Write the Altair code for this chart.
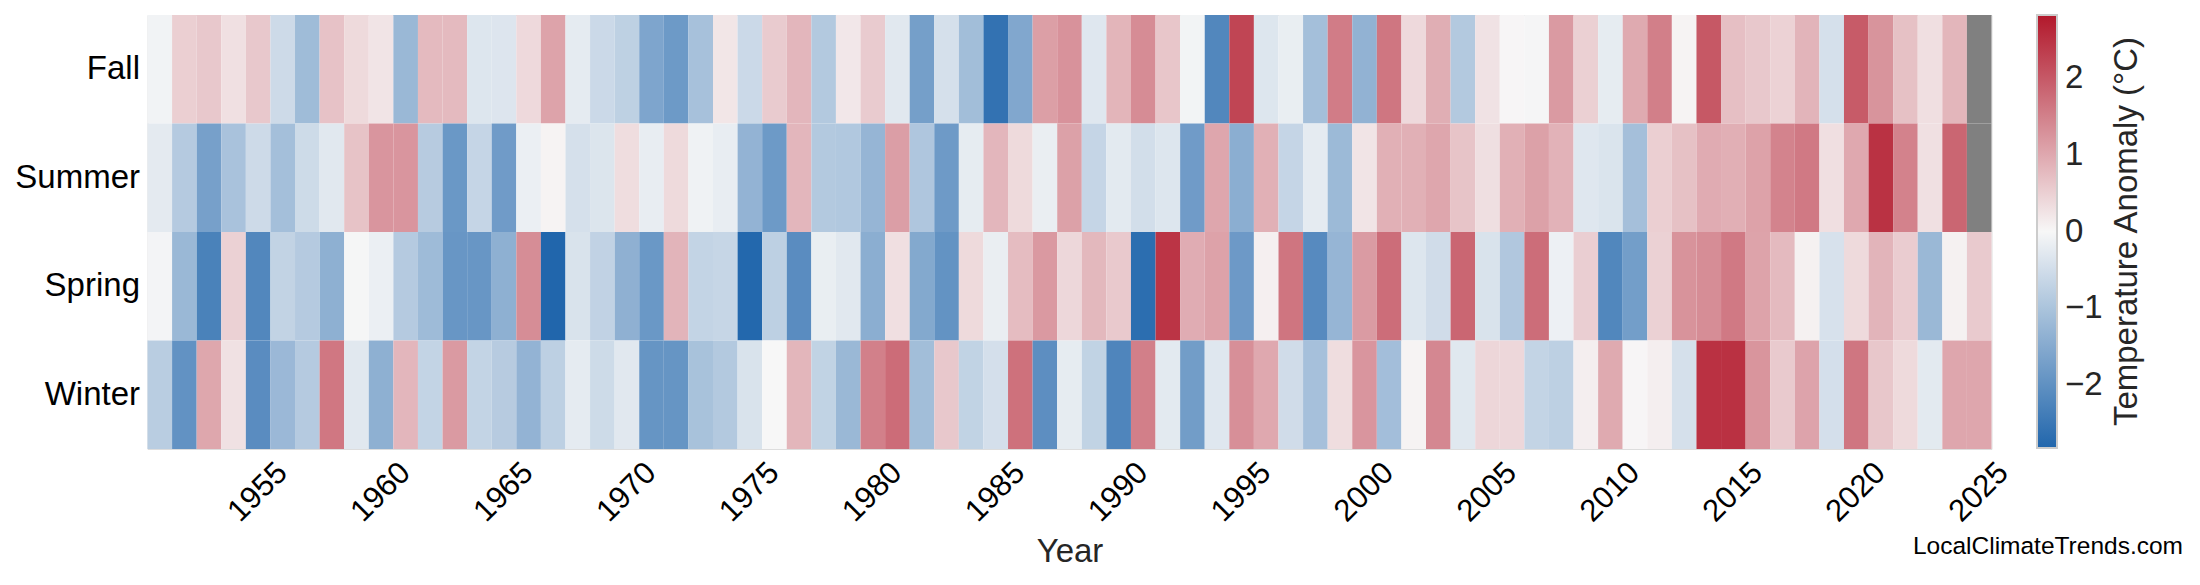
import altair as alt
import pandas as pd

years = list(range(1951, 2026))
seasons = ["Fall", "Summer", "Spring", "Winter"]

fall = [-0.08, 0.51, 0.60, 0.29, 0.60, -0.56, -1.16, 0.67, 0.37, 0.24,
        -1.23, 0.77, 0.77, -0.34, -0.35, 0.38, 1.07, -0.24, -0.58, -0.75,
        -1.60, -1.82, -1.06, 0.22, -0.58, 0.56, 0.82, -0.90, 0.20, 0.56,
        -0.29, -1.72, -0.45, -1.12, -2.59, -1.56, 1.12, 1.28, -0.32, 0.84,
        1.36, 0.62, -0.06, -2.18, 2.26, -0.34, -0.18, -1.10, 1.56, -1.34,
        1.64, 0.38, 0.93, -0.90, 0.27, 0.02, -0.03, 1.18, 0.50, -0.22,
        0.98, 1.52, 0.05, 2.02, 0.71, 0.60, 0.47, 0.85, -0.45, 1.98,
        1.26, 0.69, 0.30, 0.83, None]

summer = [-0.25, -0.87, -1.69, -1.03, -0.56, -1.10, -0.55, -0.29, 0.66, 1.24,
          1.24, -0.85, -1.86, -0.66, -1.79, -0.16, 0.05, -0.45, -0.36, 0.33,
          -0.20, 0.37, -0.10, -0.20, -1.32, -1.82, 0.82, -0.90, -0.92, -1.28,
          1.13, -0.95, -1.81, -0.22, 0.82, 0.37, -0.17, 1.09, -0.66, -0.26,
          -0.49, -0.34, -1.79, 1.03, -1.43, 0.90, -0.66, -0.24, -1.20, 0.24,
          0.90, 0.90, 1.03, 0.65, 0.31, 0.90, 1.09, 0.88, -0.32, -0.38,
          -1.09, 0.51, 0.69, 0.96, 0.92, 1.08, 1.47, 1.60, 0.30, 1.00,
          2.50, 1.48, 0.29, 1.84, None]

spring = [-0.05, -1.23, -2.29, 0.48, -2.18, -0.70, -0.87, -1.39, -0.02, -0.16,
          -0.87, -1.18, -1.89, -1.89, -1.39, 1.35, -2.83, -0.40, -0.72, -1.38,
          -1.86, 0.85, -0.69, -0.65, -2.80, -0.77, -2.08, -0.18, -0.29, -1.43,
          0.30, -1.53, -1.96, 0.37, -0.17, 0.75, 1.19, 0.40, 0.80, 0.58,
          -2.68, 2.47, 0.95, 1.08, -1.83, 0.10, 1.65, -2.12, -1.28, 1.17,
          1.75, -0.34, -0.52, 1.84, -0.40, -0.93, 1.75, -0.13, 0.52, -2.19,
          -1.74, 0.48, 1.27, 1.35, 1.60, 1.07, 0.77, 0.08, -0.42, 0.37,
          0.85, 0.54, -1.23, 0.08, 0.57]

winter = [-0.82, -1.97, 1.02, 0.28, -2.08, -1.22, -0.87, 1.62, -0.29, -1.39,
          0.82, -0.69, 1.18, -0.69, -0.85, -1.32, -0.77, -0.24, -0.55, -0.29,
          -1.92, -1.92, -1.04, -0.90, -0.40, 0.00, 0.83, -0.71, -1.23, 1.51,
          1.76, -1.12, 0.60, -0.71, -0.46, 1.70, -2.04, -0.22, -0.71, -2.22,
          1.52, -0.26, -1.76, -0.32, 1.32, 1.00, -0.52, -1.07, 0.33, 1.24,
          -1.11, 0.05, 1.42, -0.30, 0.42, 0.40, -0.69, -0.77, 0.11, 0.98,
          0.02, 0.11, -0.45, 2.51, 2.51, 1.25, 0.57, 1.06, -0.46, 1.64,
          0.61, 0.37, -0.26, 1.03, 1.03]

tick_years = [1955, 1960, 1965, 1970, 1975, 1980, 1985, 1990, 1995,
              2000, 2005, 2010, 2015, 2020, 2025]
color_domain = [-2.83, 0, 2.83]
color_range = ["#2166ac", "#f7f7f7", "#b2182b"]
legend_values = [-2, -1, 0, 1, 2]
cbar_title = "Temperature Anomaly (°C)"
watermark = "LocalClimateTrends.com"

rows = []
for s, vals in zip(seasons, [fall, summer, spring, winter]):
    for yr, v in zip(years, vals):
        rows.append({"Year": yr, "Season": s, "value": v})
df = pd.DataFrame(rows)

FONT = "Liberation Sans"
TXT = "#262626"
W, H = 1844, 434

x = alt.X("Year:O", title="Year",
          scale=alt.Scale(paddingInner=0, paddingOuter=0),
          axis=alt.Axis(values=tick_years, labelAngle=-45, labelAlign="center",
                        labelBaseline="middle", labelPadding=43, ticks=False,
                        domain=False, grid=False, labelFontSize=31, titleFontSize=33,
                        titleFontWeight="normal", titleFont=FONT, titleColor=TXT,
                        titleY=102, titleBaseline="middle", labelOverlap=False,
                        labelBound=False, labelFlush=False))
y = alt.Y("Season:N", sort=seasons, title=None,
          scale=alt.Scale(paddingInner=0, paddingOuter=0),
          axis=alt.Axis(ticks=False, domain=False, grid=False, labelFontSize=33,
                        labelPadding=8))

heat = alt.Chart(df).transform_filter("isValid(datum.value)").mark_rect().encode(
    x=x, y=y,
    color=alt.Color("value:Q",
                    scale=alt.Scale(domain=color_domain, range=color_range, interpolate="rgb"),
                    legend=alt.Legend(orient="none", legendX=1889.5, legendY=0,
                                      direction="vertical", gradientLength=433,
                                      gradientThickness=20, values=legend_values,
                                      labelFontSize=33, labelOffset=8, title=None,
                                      gradientStrokeColor="#cccccc", gradientStrokeWidth=2,
                                      labelColor=TXT, labelFont=FONT))
)

missing = alt.Chart(df).transform_filter("!isValid(datum.value)").mark_rect(color="#808080").encode(
    x=x, y=y
)

title_df = pd.DataFrame({"t": [cbar_title]})
cbar_t = alt.Chart(title_df).mark_text(angle=270, fontSize=33, align="center",
                                       baseline="middle", color=TXT, font=FONT).encode(
    x=alt.value(1979.5), y=alt.value(216.5), text="t:N")

wm_df = pd.DataFrame({"t": [watermark]})
wm = alt.Chart(wm_df).mark_text(fontSize=24.5, align="right", baseline="alphabetic",
                                color="#000000", font=FONT).encode(
    x=alt.value(2035.5), y=alt.value(539), text="t:N")

chart = alt.layer(heat, missing, cbar_t, wm).properties(
    width=W, height=H,
    padding={"left": 139.5, "top": 7, "right": 200, "bottom": 128},
    autosize=alt.AutoSizeParams(type="none"),
).configure_view(stroke="#cccccc", strokeWidth=2).configure_axis(
    labelFont=FONT, titleFont=FONT, labelColor=TXT, titleColor=TXT,
    titleFontWeight="normal"
).configure(background="white")

chart.save("out.html", embed_options={"renderer": "svg", "actions": False})
